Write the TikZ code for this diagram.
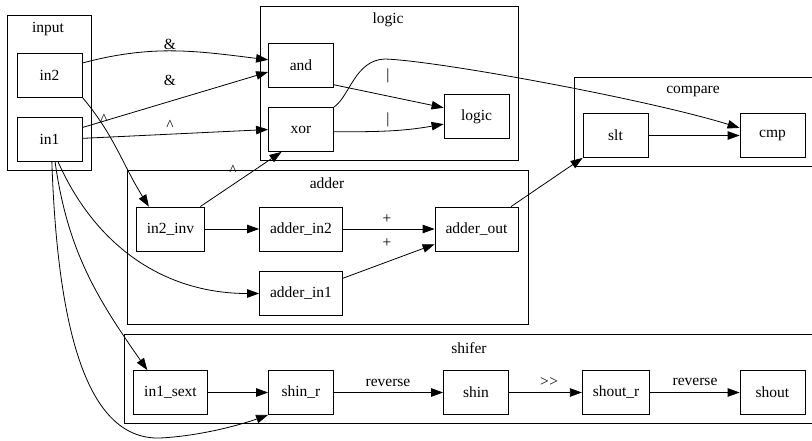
\documentclass[tikz,border=0pt]{standalone}
\usepackage{fontspec}
\setmainfont{Liberation Serif}
\usetikzlibrary{arrows.meta}

\begin{document}
\begin{tikzpicture}[x=1pt,y=-1pt,line width=0.8pt,
    txt/.style={font=\fontsize{15.5pt}{18pt}\selectfont},
    box/.style={txt,draw,minimum width=65pt,minimum height=44pt,inner xsep=10.5pt},
    lbl/.style={txt,inner sep=1pt},
    wire/.style={-{Triangle[length=12pt,width=8.5pt]}}]
    \useasboundingbox (0,0) rectangle (812,440);
    \clip (0,0) rectangle (812,440);
    % clusters
    \draw (7,15) rectangle (91,170);
    \draw (260,6) rectangle (518,160);
    \draw (574,77) rectangle (830,166);
    \draw (127,170) rectangle (528,324);
    \draw (124,334) rectangle (830,423);
    \node[txt] (t-input) at (48,29) {input};
    \node[txt] (t-logic) at (388,20) {logic};
    \node[txt] (t-compare) at (693,91) {compare};
    \node[txt] (t-adder) at (327,183) {adder};
    \node[txt] (t-shifer) at (469,348) {shifer};
    % blocks
    \node[box] (in2) at (49.5,75) {in2};
    \node[box] (in1) at (49.5,139.5) {in1};
    \node[box] (and) at (301,65) {and};
    \node[box] (xor) at (301,129.5) {xor};
    \node[box] (logic) at (476.5,116.5) {logic};
    \node[box] (slt) at (615.5,135.5) {slt};
    \node[box] (cmp) at (772.5,135.5) {cmp};
    \node[box] (in2inv) at (170.5,229) {in2\_inv};
    \node[box] (addin2) at (301,229) {adder\_in2};
    \node[box] (addout) at (476.5,229) {adder\_out};
    \node[box] (addin1) at (301,293.5) {adder\_in1};
    \node[box] (in1sext) at (170.5,392.5) {in1\_sext};
    \node[box] (shinr) at (301,392.5) {shin\_r};
    \node[box] (shin) at (476,392.5) {shin};
    \node[box] (shoutr) at (616,392.5) {shout\_r};
    \node[box] (shout) at (772.5,392.5) {shout};
    % logic wires
    \draw[wire] (in2.20) to[out=15,in=173] (and.171);
    \draw[wire] (in1.20) -- (and.192);
    \draw[wire] (in1.2) -- (xor.west);
    \draw[wire] (in2.south east) to[out=-50,in=122] (in2inv.134);
    \draw[wire] (in2inv.37) -- (xor.229);
    \draw[wire] (and.-31) -- (logic.165);
    \draw[wire] (xor.-4) to[out=0,in=190] (logic.193);
    \draw[wire] (xor.north east) .. controls (350,96) and (355,60) .. (385,59)
        .. controls (440,61) and (650,100) .. (cmp.167);
    \draw[wire] (slt) -- (cmp);
    \draw[wire] (addout.33) -- (slt.south west);
    % adder wires
    \draw[wire] (in2inv) -- (addin2);
    \draw[wire] (addin2) -- (addout);
    \draw[wire] (addin1.20) -- (addout.200);
    \draw[wire] (in1.-69) to[out=-66,in=180] (addin1);
    % shifter wires
    \draw[wire] (in1.-76) to[out=-82,in=125] (in1sext.136);
    \draw[wire] (in1.-84) .. controls (58,340) and (90,440) .. (160,438)
        .. controls (200,436) and (240,425) .. (shinr.south west);
    \draw[wire] (in1sext) -- (shinr);
    \draw[wire] (shinr) -- (shin);
    \draw[wire] (shin) -- (shoutr);
    \draw[wire] (shoutr) -- (shout);
    % edge labels
    \node[lbl] (l-amp1) at (170,44) {\&};
    \node[lbl] (l-amp2) at (170,80) {\&};
    \node[lbl] (l-xor1) at (170,125) {\textasciicircum};
    \node[lbl] (l-xor2) at (104,119) {\textasciicircum};
    \node[lbl] (l-xor3) at (233,170) {\textasciicircum};
    \node[lbl] (l-or1) at (388,76) {\textbar};
    \node[lbl] (l-or2) at (388,120) {\textbar};
    \node[lbl] (l-add1) at (387,219) {+};
    \node[lbl] (l-add2) at (387,243) {+};
    \node[lbl] (l-rev1) at (388,383) {reverse};
    \node[lbl] (l-shr) at (549,382) {\mbox{>}\kern0.5pt\mbox{>}};
    \node[lbl] (l-rev2) at (695,382) {reverse};
\end{tikzpicture}
\end{document}
